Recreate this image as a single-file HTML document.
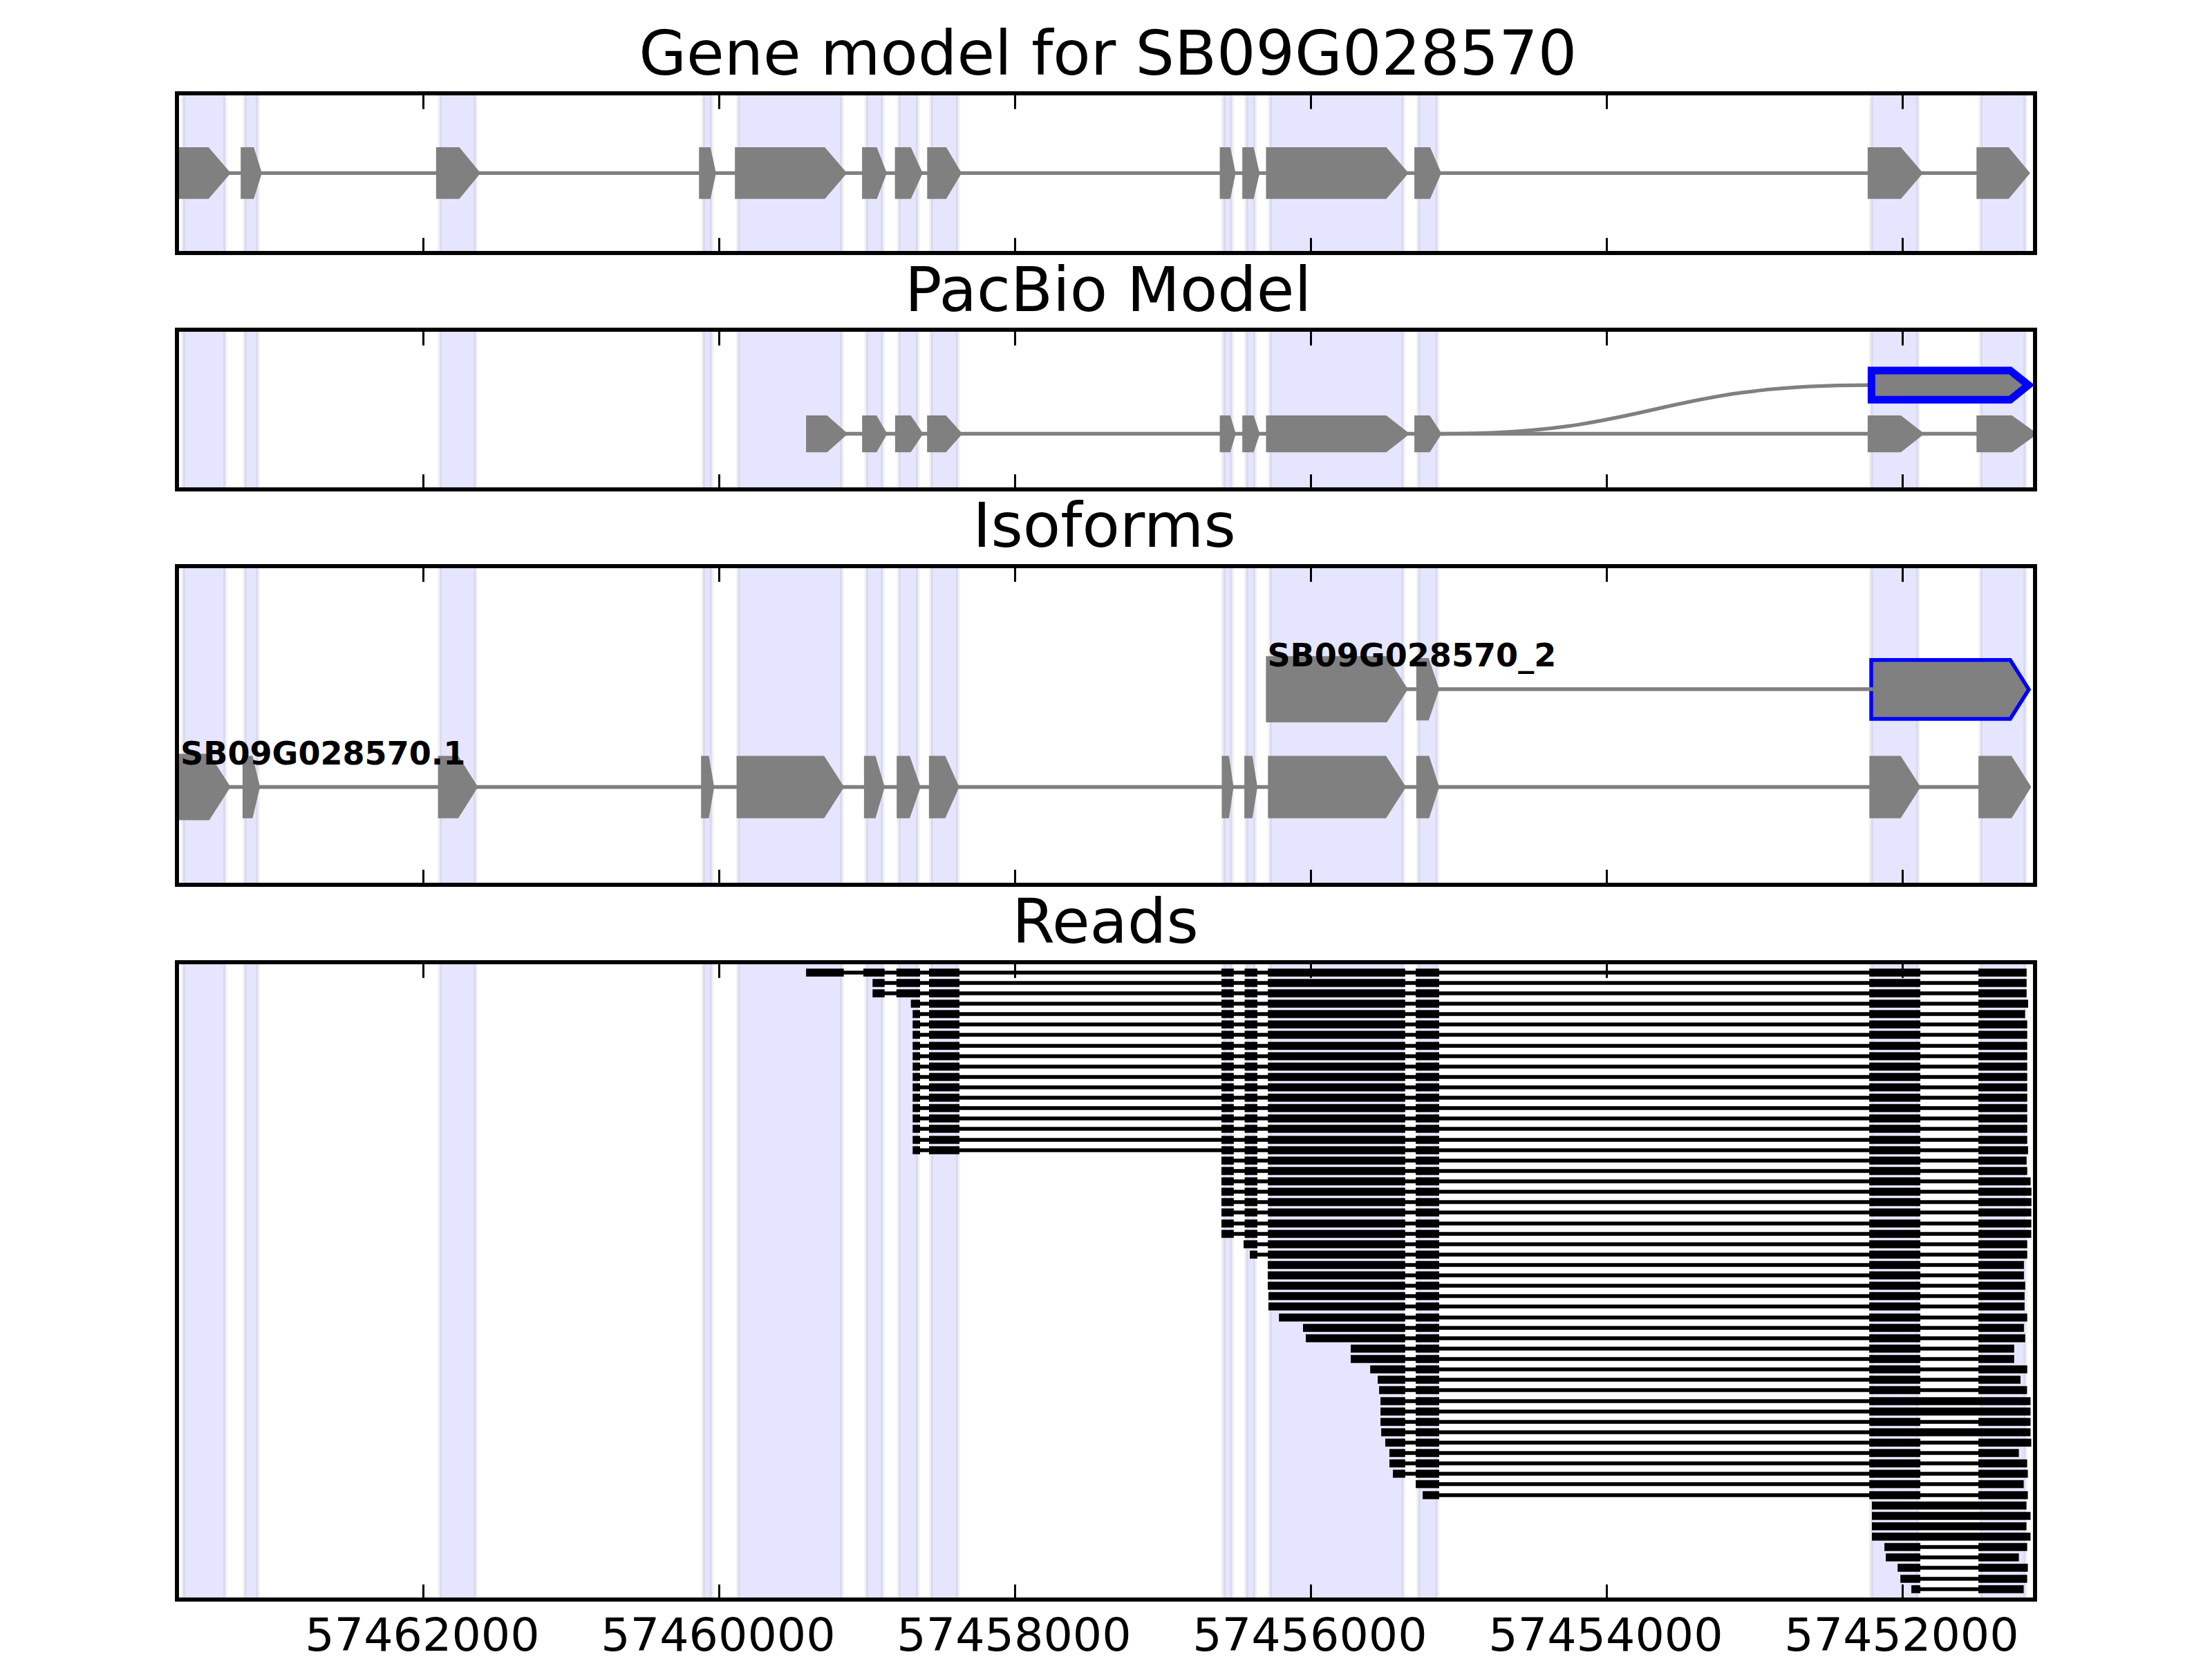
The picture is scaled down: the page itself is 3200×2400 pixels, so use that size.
<!DOCTYPE html>
<html lang="en"><head><meta charset="utf-8"><title>Gene model for SB09G028570</title>
<style>html,body{margin:0;padding:0;background:#fff;}svg{display:block;}text{font-family:"DejaVu Sans","Liberation Sans",sans-serif;fill:#000;}.t{font-size:88.9px;text-anchor:middle;}.k{font-size:66.7px;text-anchor:middle;}.b{font-size:46.1px;font-weight:bold;}</style></head><body>
<svg width="3200" height="2400" viewBox="0 0 3200 2400">
<rect width="3200" height="2400" fill="#fff"/>
<defs>
<clipPath id="c0"><rect x="256" y="135" width="2688" height="231"/></clipPath>
<clipPath id="c1"><rect x="256" y="477" width="2688" height="231"/></clipPath>
<clipPath id="c2"><rect x="256" y="819" width="2688" height="461"/></clipPath>
<clipPath id="c3"><rect x="256" y="1392" width="2688" height="922"/></clipPath>
</defs>
<g clip-path="url(#c0)">
<rect x="264.9" y="125" width="60.95" height="251" fill="#0000ff" fill-opacity="0.1" stroke="#000" stroke-opacity="0.055" stroke-width="5.6"/>
<rect x="353.9" y="125" width="19.2" height="251" fill="#0000ff" fill-opacity="0.1" stroke="#000" stroke-opacity="0.055" stroke-width="5.6"/>
<rect x="636.1" y="125" width="52" height="251" fill="#0000ff" fill-opacity="0.1" stroke="#000" stroke-opacity="0.055" stroke-width="5.6"/>
<rect x="1017.1" y="125" width="12.6" height="251" fill="#0000ff" fill-opacity="0.1" stroke="#000" stroke-opacity="0.055" stroke-width="5.6"/>
<rect x="1067.7" y="125" width="150.3" height="251" fill="#0000ff" fill-opacity="0.1" stroke="#000" stroke-opacity="0.055" stroke-width="5.6"/>
<rect x="1253.2" y="125" width="23.9" height="251" fill="#0000ff" fill-opacity="0.1" stroke="#000" stroke-opacity="0.055" stroke-width="5.6"/>
<rect x="1300.2" y="125" width="27.6" height="251" fill="#0000ff" fill-opacity="0.1" stroke="#000" stroke-opacity="0.055" stroke-width="5.6"/>
<rect x="1346.8" y="125" width="38.9" height="251" fill="#0000ff" fill-opacity="0.1" stroke="#000" stroke-opacity="0.055" stroke-width="5.6"/>
<rect x="1769.8" y="125" width="12.5" height="251" fill="#0000ff" fill-opacity="0.1" stroke="#000" stroke-opacity="0.055" stroke-width="5.6"/>
<rect x="1802.8" y="125" width="12.8" height="251" fill="#0000ff" fill-opacity="0.1" stroke="#000" stroke-opacity="0.055" stroke-width="5.6"/>
<rect x="1837" y="125" width="193.2" height="251" fill="#0000ff" fill-opacity="0.1" stroke="#000" stroke-opacity="0.055" stroke-width="5.6"/>
<rect x="2051.7" y="125" width="27.7" height="251" fill="#0000ff" fill-opacity="0.1" stroke="#000" stroke-opacity="0.055" stroke-width="5.6"/>
<rect x="2706.8" y="125" width="68.1" height="251" fill="#0000ff" fill-opacity="0.1" stroke="#000" stroke-opacity="0.055" stroke-width="5.6"/>
<rect x="2865.2" y="125" width="64.8" height="251" fill="#0000ff" fill-opacity="0.1" stroke="#000" stroke-opacity="0.055" stroke-width="5.6"/>
</g>
<g clip-path="url(#c1)">
<rect x="264.9" y="467" width="60.95" height="251" fill="#0000ff" fill-opacity="0.1" stroke="#000" stroke-opacity="0.055" stroke-width="5.6"/>
<rect x="353.9" y="467" width="19.2" height="251" fill="#0000ff" fill-opacity="0.1" stroke="#000" stroke-opacity="0.055" stroke-width="5.6"/>
<rect x="636.1" y="467" width="52" height="251" fill="#0000ff" fill-opacity="0.1" stroke="#000" stroke-opacity="0.055" stroke-width="5.6"/>
<rect x="1017.1" y="467" width="12.6" height="251" fill="#0000ff" fill-opacity="0.1" stroke="#000" stroke-opacity="0.055" stroke-width="5.6"/>
<rect x="1067.7" y="467" width="150.3" height="251" fill="#0000ff" fill-opacity="0.1" stroke="#000" stroke-opacity="0.055" stroke-width="5.6"/>
<rect x="1253.2" y="467" width="23.9" height="251" fill="#0000ff" fill-opacity="0.1" stroke="#000" stroke-opacity="0.055" stroke-width="5.6"/>
<rect x="1300.2" y="467" width="27.6" height="251" fill="#0000ff" fill-opacity="0.1" stroke="#000" stroke-opacity="0.055" stroke-width="5.6"/>
<rect x="1346.8" y="467" width="38.9" height="251" fill="#0000ff" fill-opacity="0.1" stroke="#000" stroke-opacity="0.055" stroke-width="5.6"/>
<rect x="1769.8" y="467" width="12.5" height="251" fill="#0000ff" fill-opacity="0.1" stroke="#000" stroke-opacity="0.055" stroke-width="5.6"/>
<rect x="1802.8" y="467" width="12.8" height="251" fill="#0000ff" fill-opacity="0.1" stroke="#000" stroke-opacity="0.055" stroke-width="5.6"/>
<rect x="1837" y="467" width="193.2" height="251" fill="#0000ff" fill-opacity="0.1" stroke="#000" stroke-opacity="0.055" stroke-width="5.6"/>
<rect x="2051.7" y="467" width="27.7" height="251" fill="#0000ff" fill-opacity="0.1" stroke="#000" stroke-opacity="0.055" stroke-width="5.6"/>
<rect x="2706.8" y="467" width="68.1" height="251" fill="#0000ff" fill-opacity="0.1" stroke="#000" stroke-opacity="0.055" stroke-width="5.6"/>
<rect x="2865.2" y="467" width="64.8" height="251" fill="#0000ff" fill-opacity="0.1" stroke="#000" stroke-opacity="0.055" stroke-width="5.6"/>
</g>
<g clip-path="url(#c2)">
<rect x="264.9" y="809" width="60.95" height="481" fill="#0000ff" fill-opacity="0.1" stroke="#000" stroke-opacity="0.055" stroke-width="5.6"/>
<rect x="353.9" y="809" width="19.2" height="481" fill="#0000ff" fill-opacity="0.1" stroke="#000" stroke-opacity="0.055" stroke-width="5.6"/>
<rect x="636.1" y="809" width="52" height="481" fill="#0000ff" fill-opacity="0.1" stroke="#000" stroke-opacity="0.055" stroke-width="5.6"/>
<rect x="1017.1" y="809" width="12.6" height="481" fill="#0000ff" fill-opacity="0.1" stroke="#000" stroke-opacity="0.055" stroke-width="5.6"/>
<rect x="1067.7" y="809" width="150.3" height="481" fill="#0000ff" fill-opacity="0.1" stroke="#000" stroke-opacity="0.055" stroke-width="5.6"/>
<rect x="1253.2" y="809" width="23.9" height="481" fill="#0000ff" fill-opacity="0.1" stroke="#000" stroke-opacity="0.055" stroke-width="5.6"/>
<rect x="1300.2" y="809" width="27.6" height="481" fill="#0000ff" fill-opacity="0.1" stroke="#000" stroke-opacity="0.055" stroke-width="5.6"/>
<rect x="1346.8" y="809" width="38.9" height="481" fill="#0000ff" fill-opacity="0.1" stroke="#000" stroke-opacity="0.055" stroke-width="5.6"/>
<rect x="1769.8" y="809" width="12.5" height="481" fill="#0000ff" fill-opacity="0.1" stroke="#000" stroke-opacity="0.055" stroke-width="5.6"/>
<rect x="1802.8" y="809" width="12.8" height="481" fill="#0000ff" fill-opacity="0.1" stroke="#000" stroke-opacity="0.055" stroke-width="5.6"/>
<rect x="1837" y="809" width="193.2" height="481" fill="#0000ff" fill-opacity="0.1" stroke="#000" stroke-opacity="0.055" stroke-width="5.6"/>
<rect x="2051.7" y="809" width="27.7" height="481" fill="#0000ff" fill-opacity="0.1" stroke="#000" stroke-opacity="0.055" stroke-width="5.6"/>
<rect x="2706.8" y="809" width="68.1" height="481" fill="#0000ff" fill-opacity="0.1" stroke="#000" stroke-opacity="0.055" stroke-width="5.6"/>
<rect x="2865.2" y="809" width="64.8" height="481" fill="#0000ff" fill-opacity="0.1" stroke="#000" stroke-opacity="0.055" stroke-width="5.6"/>
</g>
<g clip-path="url(#c3)">
<rect x="264.9" y="1382" width="60.95" height="942" fill="#0000ff" fill-opacity="0.1" stroke="#000" stroke-opacity="0.055" stroke-width="5.6"/>
<rect x="353.9" y="1382" width="19.2" height="942" fill="#0000ff" fill-opacity="0.1" stroke="#000" stroke-opacity="0.055" stroke-width="5.6"/>
<rect x="636.1" y="1382" width="52" height="942" fill="#0000ff" fill-opacity="0.1" stroke="#000" stroke-opacity="0.055" stroke-width="5.6"/>
<rect x="1017.1" y="1382" width="12.6" height="942" fill="#0000ff" fill-opacity="0.1" stroke="#000" stroke-opacity="0.055" stroke-width="5.6"/>
<rect x="1067.7" y="1382" width="150.3" height="942" fill="#0000ff" fill-opacity="0.1" stroke="#000" stroke-opacity="0.055" stroke-width="5.6"/>
<rect x="1253.2" y="1382" width="23.9" height="942" fill="#0000ff" fill-opacity="0.1" stroke="#000" stroke-opacity="0.055" stroke-width="5.6"/>
<rect x="1300.2" y="1382" width="27.6" height="942" fill="#0000ff" fill-opacity="0.1" stroke="#000" stroke-opacity="0.055" stroke-width="5.6"/>
<rect x="1346.8" y="1382" width="38.9" height="942" fill="#0000ff" fill-opacity="0.1" stroke="#000" stroke-opacity="0.055" stroke-width="5.6"/>
<rect x="1769.8" y="1382" width="12.5" height="942" fill="#0000ff" fill-opacity="0.1" stroke="#000" stroke-opacity="0.055" stroke-width="5.6"/>
<rect x="1802.8" y="1382" width="12.8" height="942" fill="#0000ff" fill-opacity="0.1" stroke="#000" stroke-opacity="0.055" stroke-width="5.6"/>
<rect x="1837" y="1382" width="193.2" height="942" fill="#0000ff" fill-opacity="0.1" stroke="#000" stroke-opacity="0.055" stroke-width="5.6"/>
<rect x="2051.7" y="1382" width="27.7" height="942" fill="#0000ff" fill-opacity="0.1" stroke="#000" stroke-opacity="0.055" stroke-width="5.6"/>
<rect x="2706.8" y="1382" width="68.1" height="942" fill="#0000ff" fill-opacity="0.1" stroke="#000" stroke-opacity="0.055" stroke-width="5.6"/>
<rect x="2865.2" y="1382" width="64.8" height="942" fill="#0000ff" fill-opacity="0.1" stroke="#000" stroke-opacity="0.055" stroke-width="5.6"/>
</g>
<g clip-path="url(#c0)" fill="#808080">
<line x1="250" y1="250.4" x2="2900" y2="250.4" stroke="#808080" stroke-width="5.4"/>
<polygon points="240,213.1 301.7,213.1 333.83,250.4 301.7,287.7 240,287.7" />
<polygon points="348.2,213.1 367.1,213.1 378.85,250.4 367.1,287.7 348.2,287.7" />
<polygon points="630.9,213.1 664.5,213.1 695.22,250.4 664.5,287.7 630.9,287.7" />
<polygon points="1011.2,213.1 1027.8,213.1 1035.89,250.4 1027.8,287.7 1011.2,287.7" />
<polygon points="1063.1,213.1 1193.2,213.1 1225.33,250.4 1193.2,287.7 1063.1,287.7" />
<polygon points="1247.1,213.1 1268.5,213.1 1282.95,250.4 1268.5,287.7 1247.1,287.7" />
<polygon points="1294.6,213.1 1317.7,213.1 1334.84,250.4 1317.7,287.7 1294.6,287.7" />
<polygon points="1341.3,213.1 1368.9,213.1 1391.22,250.4 1368.9,287.7 1341.3,287.7" />
<polygon points="1764.6,213.1 1779.8,213.1 1787.56,250.4 1779.8,287.7 1764.6,287.7" />
<polygon points="1797.2,213.1 1813.6,213.1 1822.22,250.4 1813.6,287.7 1797.2,287.7" />
<polygon points="1831.5,213.1 2005.5,213.1 2037.73,250.4 2005.5,287.7 1831.5,287.7" />
<polygon points="2046.1,213.1 2068.9,213.1 2085.07,250.4 2068.9,287.7 2046.1,287.7" />
<polygon points="2701.9,213.1 2749.9,213.1 2782.03,250.4 2749.9,287.7 2701.9,287.7" />
<polygon points="2859.3,213.1 2905.8,213.1 2936.9,250.4 2905.8,287.7 2859.3,287.7" />
</g>
<g clip-path="url(#c1)" fill="#808080">
<line x1="1200" y1="627.6" x2="2900" y2="627.6" stroke="#808080" stroke-width="5.5"/>
<path d="M2080,627.6 L2084,627.6 C2393,627.6 2393,557.2 2702,557.2 L2708,557.2" fill="none" stroke="#808080" stroke-width="5.2"/>
<polygon points="1166.1,601 1196.5,601 1226.66,627.6 1196.5,654.2 1166.1,654.2" />
<polygon points="1247.2,601 1268.1,601 1283.57,627.6 1268.1,654.2 1247.2,654.2" />
<polygon points="1294.9,601 1317.6,601 1335.52,627.6 1317.6,654.2 1294.9,654.2" />
<polygon points="1341.2,601 1368.5,601 1392.32,627.6 1368.5,654.2 1341.2,654.2" />
<polygon points="1764.6,601 1779.8,601 1787.81,627.6 1779.8,654.2 1764.6,654.2" />
<polygon points="1797.2,601 1813.6,601 1822.5,627.6 1813.6,654.2 1797.2,654.2" />
<polygon points="1831.5,601 2005.5,601 2039.56,627.6 2005.5,654.2 1831.5,654.2" />
<polygon points="2046.1,601 2068.4,601 2085.65,627.6 2068.4,654.2 2046.1,654.2" />
<polygon points="2701.9,601 2749.9,601 2783.96,627.6 2749.9,654.2 2701.9,654.2" />
<polygon points="2859.3,601 2910.7,601 2947.5,627.6 2910.7,654.2 2859.3,654.2" />
<polygon points="2707.4,536 2908,536 2934.5,557.1 2908,578.2 2707.4,578.2" stroke="#0000ff" stroke-width="11" stroke-linejoin="miter" stroke-miterlimit="10"/>
</g>
<g clip-path="url(#c2)" fill="#808080">
<line x1="250" y1="1138.6" x2="2900" y2="1138.6" stroke="#808080" stroke-width="5.5"/>
<polygon points="240,1090.6 302.7,1090.6 333.53,1138.6 302.7,1186.6 240,1186.6" />
<polygon points="350.9,1093.5 365.4,1093.5 376.04,1138.6 365.4,1183.7 350.9,1183.7" />
<polygon points="633.6,1093.5 663,1093.5 691.4,1138.6 663,1183.7 633.6,1183.7" />
<polygon points="1014.2,1093.5 1025.5,1093.5 1033.16,1138.6 1025.5,1183.7 1014.2,1183.7" />
<polygon points="1065.6,1093.5 1192.2,1093.5 1221.24,1138.6 1192.2,1183.7 1065.6,1183.7" />
<polygon points="1249.9,1093.5 1266.5,1093.5 1279.8,1138.6 1266.5,1183.7 1249.9,1183.7" />
<polygon points="1297.2,1093.5 1316,1093.5 1331.74,1138.6 1316,1183.7 1297.2,1183.7" />
<polygon points="1343.9,1093.5 1367.4,1093.5 1387.72,1138.6 1367.4,1183.7 1343.9,1183.7" />
<polygon points="1767.5,1093.5 1777.9,1093.5 1784.49,1138.6 1777.9,1183.7 1767.5,1183.7" />
<polygon points="1800.1,1093.5 1811.7,1093.5 1819.04,1138.6 1811.7,1183.7 1800.1,1183.7" />
<polygon points="1834.3,1093.5 2005.1,1093.5 2034.03,1138.6 2005.1,1183.7 1834.3,1183.7" />
<polygon points="2048.9,1093.5 2067.4,1093.5 2082.08,1138.6 2067.4,1183.7 2048.9,1183.7" />
<polygon points="2704.4,1093.5 2749.6,1093.5 2778.53,1138.6 2749.6,1183.7 2704.4,1183.7" />
<polygon points="2862.1,1093.5 2910,1093.5 2938.5,1138.6 2910,1183.7 2862.1,1183.7" />
<polygon points="1831.4,949.3 2006.3,949.3 2036.82,997.1 2006.3,1044.9 1831.4,1044.9" />
<polygon points="2048.9,952 2066.8,952 2082.12,997.1 2066.8,1042.2 2048.9,1042.2" />
<polygon points="2707,954.8 2908.1,954.8 2935,997.4 2908.1,1040 2707,1040" stroke="#0000ff" stroke-width="5.5" stroke-linejoin="miter" stroke-miterlimit="10"/>
<line x1="2030" y1="997.1" x2="2709.8" y2="997.1" stroke="#808080" stroke-width="5.5"/>
</g>
<text class="b" x="261.1" y="1106.3">SB09G028570.1</text>
<text class="b" x="1833.4" y="964.1">SB09G028570_2</text>
<g clip-path="url(#c3)" fill="none" stroke="#000">
<path stroke-width="5.5" d="M1167.1,1407 H2930.8 M1263.3,1422 H2930.8 M1263.3,1437 H2930.8 M1318.7,1452 H2933 M1321.3,1467 H2928.6 M1321.3,1482 H2931.7 M1321.3,1497 H2931.7 M1321.3,1513 H2931.7 M1321.3,1528 H2931.7 M1321.3,1543 H2931.7 M1321.3,1558 H2931.7 M1321.3,1573 H2931.7 M1321.3,1588 H2931.7 M1321.3,1603 H2931.7 M1321.3,1618 H2931.7 M1321.3,1633 H2931.7 M1321.3,1649 H2931.7 M1321.3,1664 H2933 M1768,1679 H2930.8 M1768,1694 H2931.7 M1768,1709 H2936.6 M1768,1724 H2937.8 M1768,1739 H2937.8 M1768,1754 H2937.6 M1768,1770 H2937.6 M1768,1785 H2937.5 M1800.1,1800 H2931.7 M1809.1,1815 H2931.7 M1835,1830 H2926.9 M1835,1845 H2926.9 M1835,1860 H2928.8 M1836,1875 H2927.8 M1836,1890 H2927.8 M1851.2,1906 H2931.7 M1886,1921 H2926.9 M1890,1936 H2928.8 M1955,1951 H2912.8 M1955,1966 H2912.8 M1983.2,1981 H2931.7 M1994.1,1996 H2922 M1996.1,2011 H2931.4 M1998.1,2027 H2936.5 M1998.1,2042 H2936.5 M1998.1,2057 H2936.5 M1999.1,2072 H2936.5 M2005,2087 H2937.5 M2011,2102 H2919.6 M2011,2117 H2931.6 M2016,2132 H2932.6 M2049.1,2147 H2926.6 M2059.1,2163 H2932.6 M2709,2178 H2930.6 M2709,2193 H2936.5 M2709,2208 H2930.6 M2709,2223 H2936.5 M2727.1,2238 H2931.6 M2729.1,2253 H2919.6 M2746.2,2268 H2932.6 M2750.2,2284 H2931.6 M2766.1,2299 H2926.6"/>
<path stroke-width="11.6" d="M1166.1,1407 H1220.6 M1249,1407 H1279.7 M1296.8,1407 H1331 M1344,1407 H1388 M1767,1407 H1784.8 M1800.6,1407 H1819 M1834.2,1407 H2032.8 M2048.1,1407 H2082 M2704.2,1407 H2778 M2862.1,1407 H2931.8 M1262.3,1422 H1279.7 M1296.8,1422 H1331 M1344,1422 H1388 M1767,1422 H1784.8 M1800.6,1422 H1819 M1834.2,1422 H2032.8 M2048.1,1422 H2082 M2704.2,1422 H2778 M2862.1,1422 H2931.8 M1262.3,1437 H1279.7 M1296.8,1437 H1331 M1344,1437 H1388 M1767,1437 H1784.8 M1800.6,1437 H1819 M1834.2,1437 H2032.8 M2048.1,1437 H2082 M2704.2,1437 H2778 M2862.1,1437 H2931.8 M1317.7,1452 H1331 M1344,1452 H1388 M1767,1452 H1784.8 M1800.6,1452 H1819 M1834.2,1452 H2032.8 M2048.1,1452 H2082 M2704.2,1452 H2778 M2862.1,1452 H2934 M1320.3,1467 H1331 M1344,1467 H1388 M1767,1467 H1784.8 M1800.6,1467 H1819 M1834.2,1467 H2032.8 M2048.1,1467 H2082 M2704.2,1467 H2778 M2862.1,1467 H2929.6 M1320.3,1482 H1331 M1344,1482 H1388 M1767,1482 H1784.8 M1800.6,1482 H1819 M1834.2,1482 H2032.8 M2048.1,1482 H2082 M2704.2,1482 H2778 M2862.1,1482 H2932.7 M1320.3,1497 H1331 M1344,1497 H1388 M1767,1497 H1784.8 M1800.6,1497 H1819 M1834.2,1497 H2032.8 M2048.1,1497 H2082 M2704.2,1497 H2778 M2862.1,1497 H2932.7 M1320.3,1513 H1331 M1344,1513 H1388 M1767,1513 H1784.8 M1800.6,1513 H1819 M1834.2,1513 H2032.8 M2048.1,1513 H2082 M2704.2,1513 H2778 M2862.1,1513 H2932.7 M1320.3,1528 H1331 M1344,1528 H1388 M1767,1528 H1784.8 M1800.6,1528 H1819 M1834.2,1528 H2032.8 M2048.1,1528 H2082 M2704.2,1528 H2778 M2862.1,1528 H2932.7 M1320.3,1543 H1331 M1344,1543 H1388 M1767,1543 H1784.8 M1800.6,1543 H1819 M1834.2,1543 H2032.8 M2048.1,1543 H2082 M2704.2,1543 H2778 M2862.1,1543 H2932.7 M1320.3,1558 H1331 M1344,1558 H1388 M1767,1558 H1784.8 M1800.6,1558 H1819 M1834.2,1558 H2032.8 M2048.1,1558 H2082 M2704.2,1558 H2778 M2862.1,1558 H2932.7 M1320.3,1573 H1331 M1344,1573 H1388 M1767,1573 H1784.8 M1800.6,1573 H1819 M1834.2,1573 H2032.8 M2048.1,1573 H2082 M2704.2,1573 H2778 M2862.1,1573 H2932.7 M1320.3,1588 H1331 M1344,1588 H1388 M1767,1588 H1784.8 M1800.6,1588 H1819 M1834.2,1588 H2032.8 M2048.1,1588 H2082 M2704.2,1588 H2778 M2862.1,1588 H2932.7 M1320.3,1603 H1331 M1344,1603 H1388 M1767,1603 H1784.8 M1800.6,1603 H1819 M1834.2,1603 H2032.8 M2048.1,1603 H2082 M2704.2,1603 H2778 M2862.1,1603 H2932.7 M1320.3,1618 H1331 M1344,1618 H1388 M1767,1618 H1784.8 M1800.6,1618 H1819 M1834.2,1618 H2032.8 M2048.1,1618 H2082 M2704.2,1618 H2778 M2862.1,1618 H2932.7 M1320.3,1633 H1331 M1344,1633 H1388 M1767,1633 H1784.8 M1800.6,1633 H1819 M1834.2,1633 H2032.8 M2048.1,1633 H2082 M2704.2,1633 H2778 M2862.1,1633 H2932.7 M1320.3,1649 H1331 M1344,1649 H1388 M1767,1649 H1784.8 M1800.6,1649 H1819 M1834.2,1649 H2032.8 M2048.1,1649 H2082 M2704.2,1649 H2778 M2862.1,1649 H2932.7 M1320.3,1664 H1331 M1344,1664 H1388 M1767,1664 H1784.8 M1800.6,1664 H1819 M1834.2,1664 H2032.8 M2048.1,1664 H2082 M2704.2,1664 H2778 M2862.1,1664 H2934 M1767,1679 H1784.8 M1800.6,1679 H1819 M1834.2,1679 H2032.8 M2048.1,1679 H2082 M2704.2,1679 H2778 M2862.1,1679 H2931.8 M1767,1694 H1784.8 M1800.6,1694 H1819 M1834.2,1694 H2032.8 M2048.1,1694 H2082 M2704.2,1694 H2778 M2862.1,1694 H2932.7 M1767,1709 H1784.8 M1800.6,1709 H1819 M1834.2,1709 H2032.8 M2048.1,1709 H2082 M2704.2,1709 H2778 M2862.1,1709 H2937.6 M1767,1724 H1784.8 M1800.6,1724 H1819 M1834.2,1724 H2032.8 M2048.1,1724 H2082 M2704.2,1724 H2778 M2862.1,1724 H2938.8 M1767,1739 H1784.8 M1800.6,1739 H1819 M1834.2,1739 H2032.8 M2048.1,1739 H2082 M2704.2,1739 H2778 M2862.1,1739 H2938.8 M1767,1754 H1784.8 M1800.6,1754 H1819 M1834.2,1754 H2032.8 M2048.1,1754 H2082 M2704.2,1754 H2778 M2862.1,1754 H2938.6 M1767,1770 H1784.8 M1800.6,1770 H1819 M1834.2,1770 H2032.8 M2048.1,1770 H2082 M2704.2,1770 H2778 M2862.1,1770 H2938.6 M1767,1785 H1784.8 M1800.6,1785 H1819 M1834.2,1785 H2032.8 M2048.1,1785 H2082 M2704.2,1785 H2778 M2862.1,1785 H2938.5 M1799.1,1800 H1819 M1834.2,1800 H2032.8 M2048.1,1800 H2082 M2704.2,1800 H2778 M2862.1,1800 H2932.7 M1808.1,1815 H1819 M1834.2,1815 H2032.8 M2048.1,1815 H2082 M2704.2,1815 H2778 M2862.1,1815 H2932.7 M1834,1830 H2032.8 M2048.1,1830 H2082 M2704.2,1830 H2778 M2862.1,1830 H2927.9 M1834,1845 H2032.8 M2048.1,1845 H2082 M2704.2,1845 H2778 M2862.1,1845 H2927.9 M1834,1860 H2032.8 M2048.1,1860 H2082 M2704.2,1860 H2778 M2862.1,1860 H2929.8 M1835,1875 H2032.8 M2048.1,1875 H2082 M2704.2,1875 H2778 M2862.1,1875 H2928.8 M1835,1890 H2032.8 M2048.1,1890 H2082 M2704.2,1890 H2778 M2862.1,1890 H2928.8 M1850.2,1906 H2032.8 M2048.1,1906 H2082 M2704.2,1906 H2778 M2862.1,1906 H2932.7 M1885,1921 H2032.8 M2048.1,1921 H2082 M2704.2,1921 H2778 M2862.1,1921 H2927.9 M1889,1936 H2032.8 M2048.1,1936 H2082 M2704.2,1936 H2778 M2862.1,1936 H2929.8 M1954,1951 H2032.8 M2048.1,1951 H2082 M2704.2,1951 H2778 M2862.1,1951 H2913.8 M1954,1966 H2032.8 M2048.1,1966 H2082 M2704.2,1966 H2778 M2862.1,1966 H2913.8 M1982.2,1981 H2032.8 M2048.1,1981 H2082 M2704.2,1981 H2778 M2862.1,1981 H2932.7 M1993.1,1996 H2032.8 M2048.1,1996 H2082 M2704.2,1996 H2778 M2862.1,1996 H2923 M1995.1,2011 H2032.8 M2048.1,2011 H2082 M2704.2,2011 H2778 M2862.1,2011 H2932.4 M1997.1,2027 H2032.8 M2048.1,2027 H2082 M2704.2,2027 H2937.5 M1997.1,2042 H2032.8 M2048.1,2042 H2082 M2704.2,2042 H2937.5 M1997.1,2057 H2032.8 M2048.1,2057 H2082 M2704.2,2057 H2778 M2862.1,2057 H2937.5 M1998.1,2072 H2032.8 M2048.1,2072 H2082 M2704.2,2072 H2937.5 M2004,2087 H2032.8 M2048.1,2087 H2082 M2704.2,2087 H2778 M2862.1,2087 H2938.5 M2010,2102 H2032.8 M2048.1,2102 H2082 M2704.2,2102 H2778 M2862.1,2102 H2920.6 M2010,2117 H2032.8 M2048.1,2117 H2082 M2704.2,2117 H2778 M2862.1,2117 H2932.6 M2015,2132 H2032.8 M2048.1,2132 H2082 M2704.2,2132 H2778 M2862.1,2132 H2933.6 M2048.1,2147 H2082 M2704.2,2147 H2778 M2862.1,2147 H2927.6 M2058.1,2163 H2082 M2704.2,2163 H2778 M2862.1,2163 H2933.6 M2708,2178 H2931.6 M2708,2193 H2937.5 M2708,2208 H2931.6 M2708,2223 H2937.5 M2726.1,2238 H2778 M2862.1,2238 H2932.6 M2728.1,2253 H2778 M2862.1,2253 H2920.6 M2745.2,2268 H2778 M2862.1,2268 H2933.6 M2749.2,2284 H2778 M2862.1,2284 H2932.6 M2765.1,2299 H2778 M2862.1,2299 H2927.6"/>
</g>
<path d="M612.5,135 v22.8 M612.5,366 v-21.7 M1040.5,135 v22.8 M1040.5,366 v-21.7 M1468.5,135 v22.8 M1468.5,366 v-21.7 M1896.5,135 v22.8 M1896.5,366 v-21.7 M2324.5,135 v22.8 M2324.5,366 v-21.7 M2752.5,135 v22.8 M2752.5,366 v-21.7" stroke="#000" stroke-width="3" fill="none"/>
<rect x="256" y="135" width="2688" height="231" fill="none" stroke="#000" stroke-width="5.9"/>
<path d="M612.5,477 v22.8 M612.5,708 v-21.7 M1040.5,477 v22.8 M1040.5,708 v-21.7 M1468.5,477 v22.8 M1468.5,708 v-21.7 M1896.5,477 v22.8 M1896.5,708 v-21.7 M2324.5,477 v22.8 M2324.5,708 v-21.7 M2752.5,477 v22.8 M2752.5,708 v-21.7" stroke="#000" stroke-width="3" fill="none"/>
<rect x="256" y="477" width="2688" height="231" fill="none" stroke="#000" stroke-width="5.9"/>
<path d="M612.5,819 v22.8 M612.5,1280 v-21.7 M1040.5,819 v22.8 M1040.5,1280 v-21.7 M1468.5,819 v22.8 M1468.5,1280 v-21.7 M1896.5,819 v22.8 M1896.5,1280 v-21.7 M2324.5,819 v22.8 M2324.5,1280 v-21.7 M2752.5,819 v22.8 M2752.5,1280 v-21.7" stroke="#000" stroke-width="3" fill="none"/>
<rect x="256" y="819" width="2688" height="461" fill="none" stroke="#000" stroke-width="5.9"/>
<path d="M612.5,1392 v22.8 M612.5,2314 v-21.7 M1040.5,1392 v22.8 M1040.5,2314 v-21.7 M1468.5,1392 v22.8 M1468.5,2314 v-21.7 M1896.5,1392 v22.8 M1896.5,2314 v-21.7 M2324.5,1392 v22.8 M2324.5,2314 v-21.7 M2752.5,1392 v22.8 M2752.5,2314 v-21.7" stroke="#000" stroke-width="3" fill="none"/>
<rect x="256" y="1392" width="2688" height="922" fill="none" stroke="#000" stroke-width="5.9"/>
<text class="t" x="1602.7" y="108">Gene model for SB09G028570</text>
<text class="t" x="1603.1" y="449.8">PacBio Model</text>
<text class="t" x="1597.5" y="791">Isoforms</text>
<text class="t" x="1599" y="1364">Reads</text>
<text class="k" x="611" y="2387.8">57462000</text>
<text class="k" x="1039" y="2387.8">57460000</text>
<text class="k" x="1467" y="2387.8">57458000</text>
<text class="k" x="1895" y="2387.8">57456000</text>
<text class="k" x="2323" y="2387.8">57454000</text>
<text class="k" x="2751" y="2387.8">57452000</text>
</svg></body></html>
